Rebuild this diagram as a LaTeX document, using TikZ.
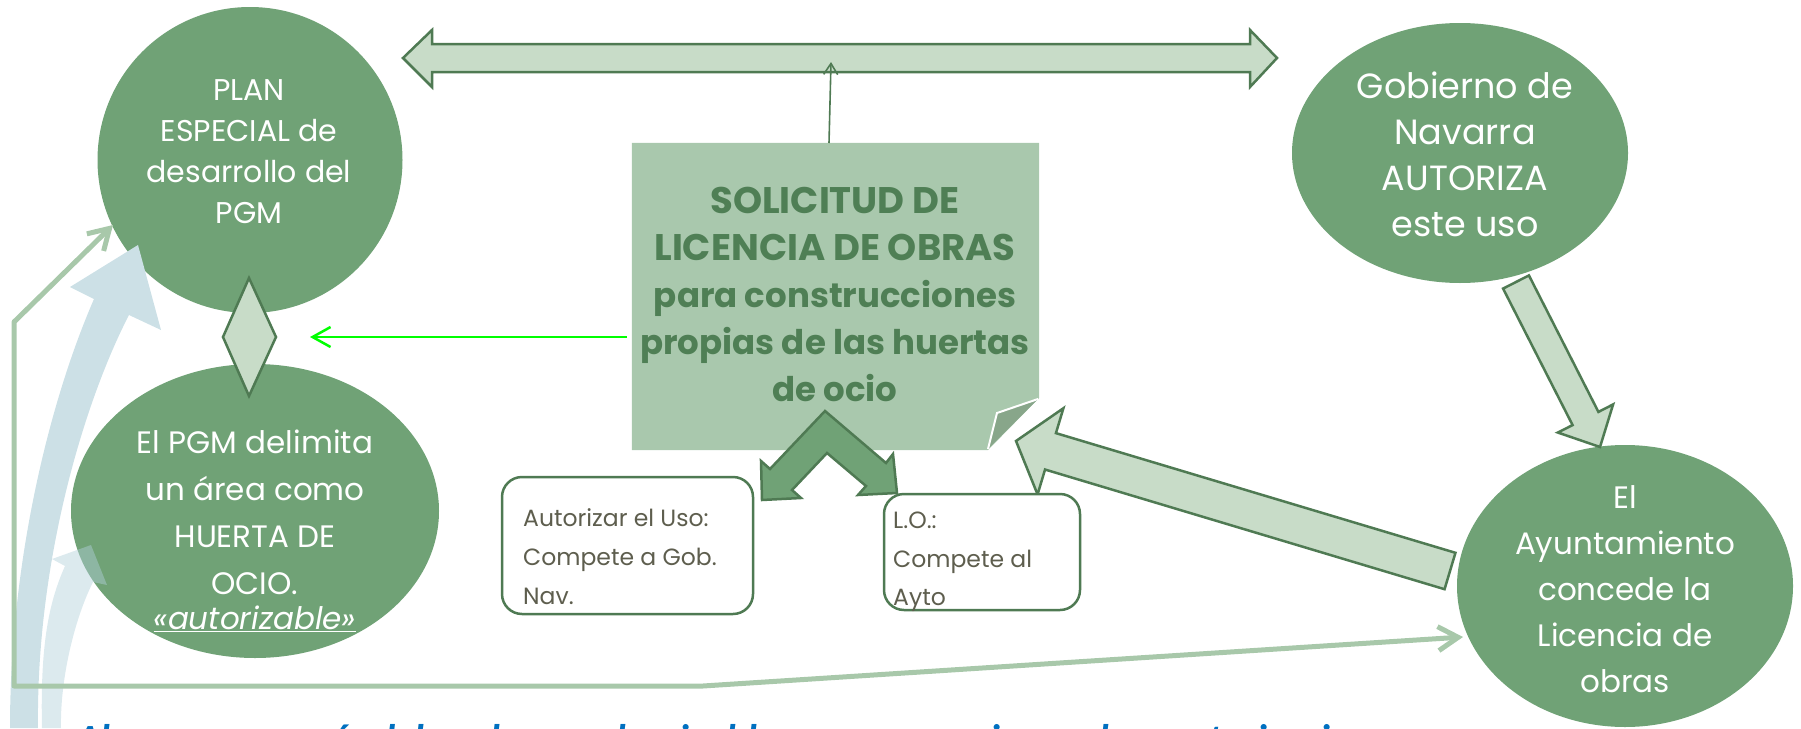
\documentclass[tikz,border=0pt]{standalone}
\usepackage{fontspec}
\setmainfont{Poppins}
\newfontfamily\calfont{Carlito}
\usetikzlibrary{shapes.geometric,calc,arrows.meta}
\definecolor{ell}{HTML}{70A276}
\definecolor{dkg}{HTML}{4F7A53}
\definecolor{lta}{HTML}{C8DCC8}
\definecolor{notec}{HTML}{A9C8AD}
\definecolor{notetxt}{HTML}{4F7F55}
\definecolor{foldc}{HTML}{88A68A}
\definecolor{lline}{HTML}{A8C8AA}
\definecolor{boxtxt}{HTML}{5E5E4E}
\definecolor{blua}{HTML}{CCE0E6}
\definecolor{blub}{HTML}{B2D0DA}
\definecolor{btxt}{HTML}{0070C0}
\definecolor{brgreen}{HTML}{00FF00}
\tikzset{
  bubble/.style={ellipse, fill=ell, draw=none, inner sep=0pt},
  bubbletxt/.style={text=white, align=center, inner sep=0pt},
  blockar/.style={fill=lta, draw=dkg, line width=2.5pt, line join=miter},
  smallbox/.style={draw=dkg, line width=2.5pt, rounded corners=20pt, fill=white, inner sep=0pt},
  boxtext/.style={text=boxtxt, align=left, inner sep=0pt, anchor=west},
  thinline/.style={draw=lline, line width=5pt, line cap=round, line join=round},
}
% #1 start, #2 end, #3 half shaft width, #4 head length, #5 head half width, #6 style
\newcommand{\myblockarrow}[6]{%
  \path (#1) coordinate (ba-s) (#2) coordinate (ba-e);
  \path ($(ba-e)!#4!(ba-s)$) coordinate (ba-b);
  \draw[#6] ($(ba-s)!#3!90:(ba-e)$) -- ($(ba-b)!#3!-90:(ba-s)$) -- ($(ba-b)!#5!-90:(ba-s)$) -- (ba-e)
     -- ($(ba-b)!#5!90:(ba-s)$) -- ($(ba-b)!#3!90:(ba-s)$) -- ($(ba-s)!#3!-90:(ba-e)$) -- cycle;
}
\begin{document}
\begin{tikzpicture}[x=1pt,y=-1pt]
\useasboundingbox (0,0) rectangle (1801,728);

% ---- ellipses ----
\node[bubble, minimum width=305pt, minimum height=306pt] (plan) at (250,160) {};
\node[bubble, minimum width=336pt, minimum height=260pt] (gob) at (1460,153) {};
\node[bubble, minimum width=336pt, minimum height=282pt] (ayto) at (1625,586) {};
\node[bubble, minimum width=368pt, minimum height=294pt] (pgm) at (255,511) {};

\node[bubbletxt, font=\fontsize{30}{41}\selectfont] (plantxt) at (249,152)
  {PLAN\\ESPECIAL de\\desarrollo del\\PGM};
\node[bubbletxt, font=\fontsize{35}{46}\selectfont] (gobtxt) at (1465,154)
  {Gobierno de\\Navarra\\AUTORIZA\\este uso};
\node[bubbletxt, font=\fontsize{31}{46}\selectfont] (aytotxt) at (1625,589)
  {El\\Ayuntamiento\\concede la\\Licencia de\\obras};
\node[bubbletxt, font=\fontsize{31}{47}\selectfont] (pgmtxt) at (255,531)
  {El PGM delimita\\un área como\\HUERTA DE\\OCIO.\\[-12pt]\underline{\itshape«autorizable»}};

% ---- diamond between PLAN and PGM ----
\coordinate (dT) at (249,278);
\coordinate (dR) at (276,337);
\coordinate (dB) at (249,396);
\coordinate (dL) at (223,337);
\draw[blockar] (dT) -- (dR) -- (dB) -- (dL) -- cycle;

% ---- note ----
\node[inner sep=0pt, minimum width=407pt, minimum height=307pt] (note) at (835.5,296.5) {};
\fill[notec] (note.north west) -- (note.north east) -- (1039,398) -- (988,450) -- (note.south west) -- cycle;
\fill[foldc] (988,449) -- (997,413) -- (1038,399) -- cycle;
\draw[white, line width=2pt, line join=miter] (988,449) -- (997,413) -- (1038,399);
\node[text=notetxt, align=center, inner sep=0pt, font=\fontsize{34}{47}\selectfont\bfseries] (notetxt) at (835,294)
  {{\fontsize{37}{47}\selectfont SOLICITUD DE}\\{\fontsize{37}{47}\selectfont LICENCIA DE OBRAS}\\para construcciones\\propias de las huertas\\de ocio};

% ---- top double arrow ----
\coordinate (dl) at (403,58);
\coordinate (dr) at (1277,58);
\draw[blockar] (dl) -- (432,30) -- (432,44) -- (1250,44) -- (1250,30) -- (dr) -- (1250,87) -- (1250,72)
  -- (432,72) -- (432,87) -- cycle;
\coordinate (thinS) at (829,143);
\coordinate (thinE) at (831,62);
\draw[dkg, line width=1.6pt, -{Straight Barb[length=11pt,width=14pt]}] (thinS) -- (thinE);

% ---- bright green arrow ----
\coordinate (gS) at (627,337);
\coordinate (gE) at (310,337);
\draw[brgreen, line width=2.5pt, -{Straight Barb[length=18pt,width=20pt]}] (gS) -- (gE);

% ---- block arrows ----
\myblockarrow{1516,282}{1600,447}{14.5pt}{32pt}{31pt}{blockar}
\myblockarrow{1450,571}{1016,441}{19pt}{36pt}{45pt}{blockar}

% ---- chevron double arrow ----
\draw[blockar, fill=ell] (825,411) -- (770,469) -- (761,461) -- (762,500) -- (801,498) -- (792,490)
  -- (827,453) -- (866,486) -- (858,495) -- (897,493) -- (893,454) -- (886,463) -- cycle;

% ---- small boxes ----
\draw[smallbox] (502,477) rectangle (753,614);
\node[boxtext, font=\fontsize{23.5}{39}\selectfont] (b1txt) at (523,557)
  {Autorizar el Uso:\\Compete a Gob.\\Nav.};
\draw[smallbox] (884,494) rectangle (1080,610);
\node[boxtext, font=\fontsize{23.5}{38.5}\selectfont] (b2txt) at (893,562)
  {L.O.:\\Compete al\\Ayto};

% ---- blue curved arrows ----
\fill[blua] (10,728) .. controls (10,560) and (50,400) .. (94,299) -- (70,287) -- (138,245) -- (161,330)
  -- (129,315) .. controls (85,400) and (36,560) .. (38,728) -- cycle;
\fill[blub, opacity=0.45] (42,728) .. controls (40,640) and (50,600) .. (65,566) -- (52,559) -- (91,545)
  -- (107,585) -- (93,582) .. controls (74,620) and (60,680) .. (61,728) -- cycle;

% ---- light green connector ----
\coordinate (lgA) at (113,225);
\coordinate (lgC1) at (14,322);
\coordinate (lgC2) at (14,686);
\coordinate (lgC3) at (703,686);
\coordinate (lgB) at (1463,637);
\draw[thinline, {Straight Barb[length=20pt,width=24pt]}-{Straight Barb[length=20pt,width=24pt]}]
  (lgA) -- (lgC1) -- (lgC2) -- (lgC3) -- (lgB);

% ---- bottom text (cut off by the lower edge) ----
\begin{scope}
\clip (0,0) rectangle (1801,728);
\node[anchor=base west, inner sep=0pt, text=btxt, font=\calfont\fontsize{40}{48}\selectfont\bfseries\itshape] (bottxt)
  at (76,752) {Al ser un uso más del suelo no urbanizable, son necesarias ambas autorizaciones};
\end{scope}
\end{tikzpicture}
\end{document}
